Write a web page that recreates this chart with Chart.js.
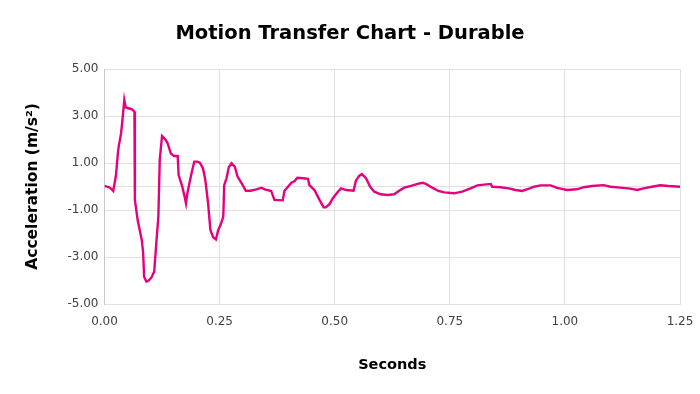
<!DOCTYPE html>
<html>
<head>
<meta charset="utf-8">
<title>Motion Transfer Chart - Durable</title>
<script src="https://cdn.jsdelivr.net/npm/chart.js@4/dist/chart.umd.min.js"></script>
<style>
  html, body { margin: 0; padding: 0; background: #ffffff; }
  #wrap { width: 700px; height: 394px; }
</style>
</head>
<body>
<div id="wrap"><canvas id="chart" width="700" height="394"></canvas></div>
<script>
// time in seconds
const seconds = [
  0.000, 0.012, 0.019, 0.025, 0.029, 0.031, 0.036, 0.039, 0.043, 0.046,
  0.052, 0.060, 0.065, 0.066, 0.072, 0.081, 0.084, 0.086, 0.091, 0.096,
  0.102, 0.108, 0.113, 0.117, 0.120, 0.125, 0.133, 0.137, 0.144, 0.151,
  0.159, 0.161, 0.169, 0.174, 0.177, 0.180, 0.189, 0.195, 0.202, 0.207,
  0.214, 0.219, 0.225, 0.230, 0.236, 0.242, 0.247, 0.252, 0.258, 0.260,
  0.265, 0.270, 0.276, 0.283, 0.289, 0.297, 0.307, 0.317, 0.330, 0.341,
  0.348, 0.362, 0.369, 0.387, 0.391, 0.406, 0.413, 0.419, 0.431, 0.442,
  0.445, 0.456, 0.467, 0.476, 0.481, 0.489, 0.496, 0.507, 0.514, 0.525,
  0.541, 0.546, 0.553, 0.559, 0.568, 0.577, 0.586, 0.600, 0.615, 0.629,
  0.640, 0.651, 0.666, 0.680, 0.691, 0.698, 0.712, 0.725, 0.738, 0.759,
  0.777, 0.795, 0.810, 0.824, 0.839, 0.842, 0.860, 0.878, 0.893, 0.907,
  0.922, 0.933, 0.947, 0.969, 0.983, 1.005, 1.026, 1.041, 1.059, 1.084,
  1.099, 1.120, 1.142, 1.157, 1.171, 1.189, 1.207, 1.225, 1.250
];

// acceleration in m/s2
const acceleration = [
  0.03, -0.05, -0.19, 0.49, 1.41, 1.72, 2.26, 2.83, 3.68, 3.37,
  3.33, 3.28, 3.18, -0.57, -1.43, -2.28, -2.84, -3.84, -4.05, -4.00,
  -3.87, -3.62, -2.28, -1.28, 1.13, 2.15, 1.98, 1.84, 1.41, 1.30,
  1.30, 0.49, -0.01, -0.43, -0.72, -0.29, 0.56, 1.06, 1.06, 1.01,
  0.77, 0.28, -0.72, -1.85, -2.16, -2.25, -1.85, -1.64, -1.28, 0.06,
  0.35, 0.82, 0.99, 0.84, 0.42, 0.16, -0.18, -0.18, -0.12, -0.05,
  -0.12, -0.19, -0.57, -0.59, -0.18, 0.16, 0.23, 0.37, 0.35, 0.33,
  0.06, -0.15, -0.57, -0.89, -0.89, -0.74, -0.50, -0.22, -0.08, -0.15,
  -0.18, 0.25, 0.45, 0.53, 0.35, -0.01, -0.22, -0.33, -0.36, -0.33,
  -0.18, -0.05, 0.03, 0.11, 0.16, 0.11, -0.05, -0.19, -0.25, -0.29,
  -0.22, -0.08, 0.05, 0.08, 0.11, -0.01, -0.03, -0.08, -0.15, -0.19,
  -0.09, -0.01, 0.05, 0.05, -0.06, -0.15, -0.12, -0.03, 0.02, 0.06,
  -0.01, -0.05, -0.09, -0.15, -0.08, -0.01, 0.05, 0.02, -0.01
];

const xTicks = [0, 0.25, 0.5, 0.75, 1.0, 1.25];
const yTicks = [-5, -3, -1, 0, 1, 3, 5];   // 0 is only the axis line, no label

const points = seconds.map((t, i) => ({ x: t, y: acceleration[i] }));

const gridColor = "#e0e0e0";
const tickColor = "#404040";
const fontFamily = "'DejaVu Sans', Verdana, sans-serif";

// centre the title over the whole canvas, not the padded area
const fullWidthTitle = {
  id: "fullWidthTitle",
  afterLayout(chart) {
    const tb = chart.titleBlock;
    if (!tb) return;
    tb.left = 0;
    tb.right = chart.width;
    tb.width = chart.width;
  }
};

new Chart(document.getElementById("chart"), {
  type: "line",
  data: {
    datasets: [{
      data: points,
      borderColor: "#e6007e",
      borderWidth: 2.4,
      pointRadius: 0,
      tension: 0,
      fill: false
    }]
  },
  options: {
    responsive: false,
    animation: false,
    events: [],
    layout: { padding: { left: 0, right: 20, top: 0, bottom: 0 } },
    plugins: {
      legend: { display: false },
      tooltip: { enabled: false },
      title: {
        display: true,
        text: "Motion Transfer Chart - Durable",
        color: "#000000",
        font: { family: fontFamily, size: 19.5, weight: "bold", lineHeight: 1.2 },
        padding: { top: 22, bottom: 23.6 }
      }
    },
    scales: {
      x: {
        type: "linear",
        min: 0,
        max: 1.25,
        afterBuildTicks: s => { s.ticks = xTicks.map(v => ({ value: v })); },
        afterFit: s => { s.height = 90; s.paddingLeft = 0; s.paddingRight = 0; },
        grid: { color: gridColor, drawTicks: false },
        border: { color: gridColor },
        ticks: {
          color: tickColor,
          padding: 11,
          font: { family: fontFamily, size: 12 },
          maxRotation: 0,
          callback: v => v.toFixed(2)
        },
        title: {
          display: true,
          text: "Seconds",
          color: "#000000",
          font: { family: fontFamily, size: 14.5, weight: "bold", lineHeight: 1.2 },
          padding: { top: 0, bottom: 20 }
        }
      },
      y: {
        type: "linear",
        min: -5,
        max: 5,
        afterBuildTicks: s => { s.ticks = yTicks.map(v => ({ value: v })); },
        afterFit: s => { s.width = 104.5; },
        grid: { color: gridColor, drawTicks: false },
        border: { color: "#c8c8c8" },
        ticks: {
          color: tickColor,
          padding: 6,
          font: { family: fontFamily, size: 12 },
          callback: v => (v === 0 ? "" : v.toFixed(2))
        },
        title: {
          display: true,
          text: "Acceleration (m/s²)",
          color: "#000000",
          font: { family: fontFamily, size: 15.5, weight: "bold", lineHeight: 1.2 },
          padding: { top: 24, bottom: 0 }
        }
      }
    }
  },
  plugins: [fullWidthTitle]
});
</script>
</body>
</html>
